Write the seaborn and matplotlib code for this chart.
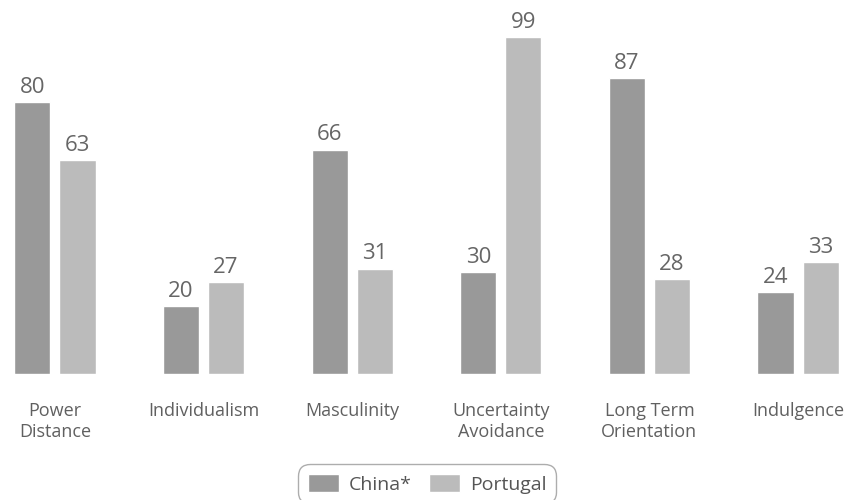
import matplotlib
matplotlib.use("Agg")
import matplotlib.pyplot as plt
import seaborn as sns
import pandas as pd

categories = ["Power\nDistance", "Individualism", "Masculinity", "Uncertainty\nAvoidance",
              "Long Term\nOrientation", "Indulgence"]
china = [80, 20, 66, 30, 87, 24]
portugal = [63, 27, 31, 99, 28, 33]
series_names = ["China*", "Portugal"]
colors = ["#999999", "#bbbbbb"]

df = pd.DataFrame({
    "category": categories * 2,
    "value": china + portugal,
    "country": [series_names[0]] * len(categories) + [series_names[1]] * len(categories),
})

sns.set_style("white")
plt.rcParams["font.family"] = ["Open Sans", "DejaVu Sans"]

fig = plt.figure(figsize=(8.53, 5.0), dpi=100)
ax = fig.add_axes([0, 0.252, 1, 0.748])

sns.barplot(data=df, x="category", y="value", hue="country", order=categories,
            hue_order=series_names, palette=colors, width=0.606, gap=0.2,
            saturation=1, ax=ax, legend=True)

for c in ax.containers:
    ax.bar_label(c, labels=[f"{v:.0f}" for v in c.datavalues], padding=3,
                 fontsize=16, color="#666666")

ax.set_xlim(-0.37, 5.37)
ax.set_ylim(0, 110)
ax.set_xlabel("")
ax.set_ylabel("")
ax.set_yticks([])
ax.tick_params(axis="x", length=0, pad=20, labelsize=13, labelcolor="#606060")
for lbl in ax.get_xticklabels():
    lbl.set_linespacing(1.2)
for s in ax.spines.values():
    s.set_visible(False)

handles, labels = ax.get_legend_handles_labels()
ax.get_legend().remove()
leg = fig.legend(handles, labels, loc="upper center", bbox_to_anchor=(0.5005, 0.072), ncol=2,
                 frameon=True, fancybox=True, edgecolor="#999999", fontsize=14,
                 handlelength=1.6, handleheight=1.1, columnspacing=0.9, handletextpad=0.5,
                 borderpad=0.5, borderaxespad=0, labelcolor="#555555")
leg.get_frame().set_linewidth(1.0)
leg.get_frame().set_boxstyle("round", pad=0, rounding_size=0.6)

fig.savefig("out.png", dpi=100)
